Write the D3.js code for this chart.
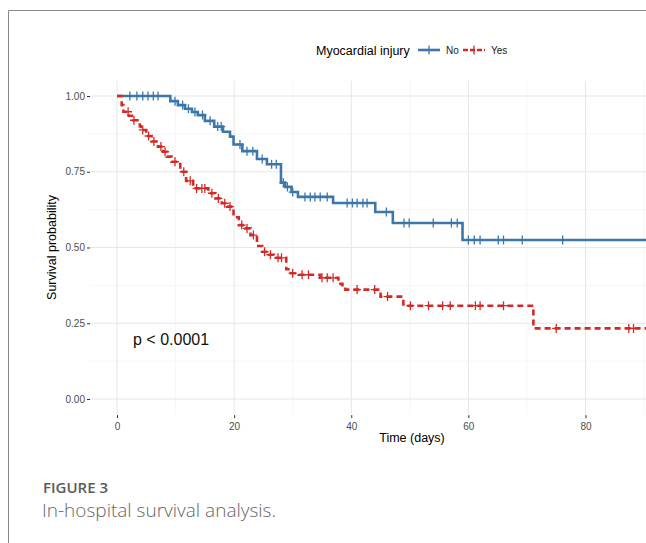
<!DOCTYPE html>
<html>
<head>
<meta charset="utf-8">
<script src="https://cdn.jsdelivr.net/npm/d3@7"></script>
<style>
  body { margin: 0; background: #fff; }
  svg { display: block; }
</style>
</head>
<body>
<svg id="chart" width="646" height="543"></svg>
<script>
// Kaplan-Meier steps: [day, survival]
const noSteps = [
  [0, 1.0], [9.1, 0.983], [10.4, 0.970], [11.6, 0.958], [12.8, 0.947], [13.8, 0.937],
  [15.0, 0.918], [16.6, 0.899], [18.1, 0.882], [19.3, 0.866], [19.9, 0.840], [21.4, 0.818],
  [23.9, 0.792], [25.6, 0.775], [28.0, 0.714], [28.7, 0.700], [29.8, 0.683], [30.9, 0.667],
  [36.9, 0.647], [44.1, 0.617], [47.1, 0.581], [59.0, 0.525], [100, 0.525]
]
const yesSteps = [
  [0, 1.0], [0.8, 0.970], [1.1, 0.948], [2.0, 0.935], [2.8, 0.920], [3.9, 0.900],
  [4.1, 0.888], [5.0, 0.868], [5.9, 0.850], [7.0, 0.833], [7.9, 0.816], [8.5, 0.800],
  [9.3, 0.783], [10.8, 0.750], [11.8, 0.720], [13.0, 0.695], [15.6, 0.679], [16.8, 0.662],
  [17.9, 0.646], [18.8, 0.635], [19.9, 0.600], [20.8, 0.574], [21.9, 0.563], [22.8, 0.541],
  [23.9, 0.505], [24.8, 0.486], [25.7, 0.476], [26.8, 0.466], [28.9, 0.428], [29.7, 0.415],
  [31.0, 0.410], [34.7, 0.400], [37.8, 0.380], [38.5, 0.370], [39.0, 0.361], [45.0, 0.338],
  [48.9, 0.308], [71.1, 0.233], [100, 0.233]
]
// censoring times (days)
const noCensor = [2.2, 3.4, 4.4, 5.3, 6.2, 7.0, 9.9, 11.2, 12.2, 13.3, 14.6, 15.9, 17.2, 17.8,
  21.0, 22.2, 23.2, 24.8, 26.4, 27.2, 28.4, 29.1, 30.0, 32.1, 33.0, 33.8, 34.7, 35.9, 39.3,
  40.2, 41.0, 42.0, 42.7, 46.0, 49.0, 49.9, 54.0, 57.1, 58.1, 60.0, 61.0, 62.0, 65.1, 66.0,
  69.2, 76.1]
const yesCensor = [1.9, 2.9, 4.4, 5.4, 6.3, 7.5, 8.2, 9.9, 11.4, 12.5, 13.6, 14.5, 15.0, 16.2,
  17.3, 18.4, 19.3, 21.3, 22.2, 23.3, 25.2, 26.2, 27.5, 28.1, 30.0, 31.6, 32.7, 35.0, 35.9,
  36.9, 41.0, 44.0, 46.2, 50.1, 53.2, 55.6, 56.9, 61.2, 62.0, 66.0, 75.0, 87.4, 88.2]

const xTicks = [0, 20, 40, 60, 80]
const xMinor = [10, 30, 50, 70, 90]
const yTicks = [0, 0.25, 0.5, 0.75, 1]
const yMinor = [0.125, 0.375, 0.625, 0.875]

const groups = [
  { name: 'No', steps: noSteps, censor: noCensor, color: '#3b77ab', dash: null },
  { name: 'Yes', steps: yesSteps, censor: yesCensor, color: '#d42a26', dash: '6,4' }
]

const svg = d3.select('#chart')
const W = 646

// outer frame
svg.append('path').attr('d', 'M8.5,543 V10.5 H646').attr('fill', 'none')
  .attr('stroke', '#8a8a8a').attr('stroke-width', 1)

const x = d3.scaleLinear().domain([0, 80]).range([117, 585.5])
const y = d3.scaleLinear().domain([0, 1]).range([399, 96])
const panel = { left: 90, right: W, top: y(1.05), bottom: y(-0.05) }

svg.append('clipPath').attr('id', 'clip').append('rect')
  .attr('x', panel.left).attr('y', panel.top - 6)
  .attr('width', panel.right - panel.left).attr('height', panel.bottom - panel.top + 12)

const grid = svg.append('g')
grid.selectAll('.vmin').data(xMinor).join('line')
  .attr('x1', d => x(d)).attr('x2', d => x(d)).attr('y1', panel.top).attr('y2', panel.bottom)
  .attr('stroke', '#f2f2f2').attr('stroke-width', 0.7)
grid.selectAll('.hmin').data(yMinor).join('line')
  .attr('x1', panel.left).attr('x2', panel.right).attr('y1', d => y(d)).attr('y2', d => y(d))
  .attr('stroke', '#f2f2f2').attr('stroke-width', 0.7)
grid.selectAll('.vmaj').data(xTicks).join('line')
  .attr('x1', d => x(d)).attr('x2', d => x(d)).attr('y1', panel.top).attr('y2', panel.bottom)
  .attr('stroke', '#e6e6e6').attr('stroke-width', 1)
grid.selectAll('.hmaj').data(yTicks).join('line')
  .attr('x1', panel.left).attr('x2', panel.right).attr('y1', d => y(d)).attr('y2', d => y(d))
  .attr('stroke', '#e6e6e6').attr('stroke-width', 1)

// axes
const yAxis = svg.append('g').attr('transform', `translate(${panel.left},0)`)
  .call(d3.axisLeft(y).tickValues(yTicks).tickFormat(d3.format('.2f')).tickSize(3).tickPadding(2))
const xAxis = svg.append('g').attr('transform', `translate(0,${panel.bottom + 1})`)
  .call(d3.axisBottom(x).tickValues(xTicks).tickSize(3).tickPadding(5))
;[xAxis, yAxis].forEach(a => {
  a.select('.domain').remove()
  a.selectAll('line').attr('stroke', '#333').attr('stroke-width', 1)
  a.selectAll('text').attr('fill', '#4d4d4d').style('font-family', 'Liberation Sans, Arial, sans-serif')
    .style('font-size', '10px')
})

// curves
const line = d3.line().x(d => x(d[0])).y(d => y(d[1])).curve(d3.curveStepAfter)
const plot = svg.append('g').attr('clip-path', 'url(#clip)')
const survAt = (steps, t) => {
  let s = steps[0][1]
  for (const st of steps) { if (st[0] <= t) s = st[1] }
  return s
}
groups.forEach(g => {
  plot.append('path').datum(g.steps)
    .attr('fill', 'none').attr('stroke', g.color).attr('stroke-width', 2.6)
    .attr('stroke-dasharray', g.dash).attr('d', line)
  plot.selectAll(null).data(g.censor).join('path')
    .attr('d', d => {
      const cx = x(d), cy = y(survAt(g.steps, d))
      return `M${cx - 4},${cy}H${cx + 4}M${cx},${cy - 4.5}V${cy + 4.5}`
    })
    .attr('stroke', g.color).attr('stroke-width', 1.3)
})

// p value
svg.append('text').attr('x', 133).attr('y', 345).text('p < 0.0001')
  .style('font-family', 'Liberation Sans, Arial, sans-serif').style('font-size', '16px').attr('fill', '#111')

// axis titles
svg.append('text').attr('x', 412).attr('y', 442).attr('text-anchor', 'middle').text('Time (days)')
  .style('font-family', 'Liberation Sans, Arial, sans-serif').style('font-size', '12.5px')
svg.append('text').attr('transform', `translate(56,${y(0.5)}) rotate(-90)`).attr('text-anchor', 'middle')
  .text('Survival probability')
  .style('font-family', 'Liberation Sans, Arial, sans-serif').style('font-size', '12.5px')

// legend
const leg = svg.append('g').style('font-family', 'Liberation Sans, Arial, sans-serif')
leg.append('text').attr('x', 316).attr('y', 55).text('Myocardial injury').style('font-size', '12.5px')
const keys = [{ x0: 418, tx: 446 }, { x0: 463, tx: 491 }]
groups.forEach((g, i) => {
  const k = keys[i]
  leg.append('line').attr('x1', k.x0).attr('x2', k.x0 + 22).attr('y1', 50).attr('y2', 50)
    .attr('stroke', g.color).attr('stroke-width', 2.6).attr('stroke-dasharray', g.dash ? '5,2' : null)
  leg.append('path').attr('d', `M${k.x0 + 11},45.5V54.5`).attr('stroke', g.color).attr('stroke-width', 1.3)
  leg.append('text').attr('x', k.tx).attr('y', 54).text(g.name).style('font-size', '10px').attr('fill', '#222')
})

// caption
svg.append('text').attr('x', 43).attr('y', 493).text('FIGURE 3')
  .style('font-family', 'Open Sans, sans-serif').style('font-size', '15px').style('font-weight', 600)
  .attr('fill', '#5a5a5a')
svg.append('text').attr('x', 42).attr('y', 517).text('In-hospital survival analysis.')
  .style('font-family', 'Open Sans, sans-serif').style('font-size', '19px').style('font-weight', 300)
  .attr('fill', '#666')
</script>
</body>
</html>
